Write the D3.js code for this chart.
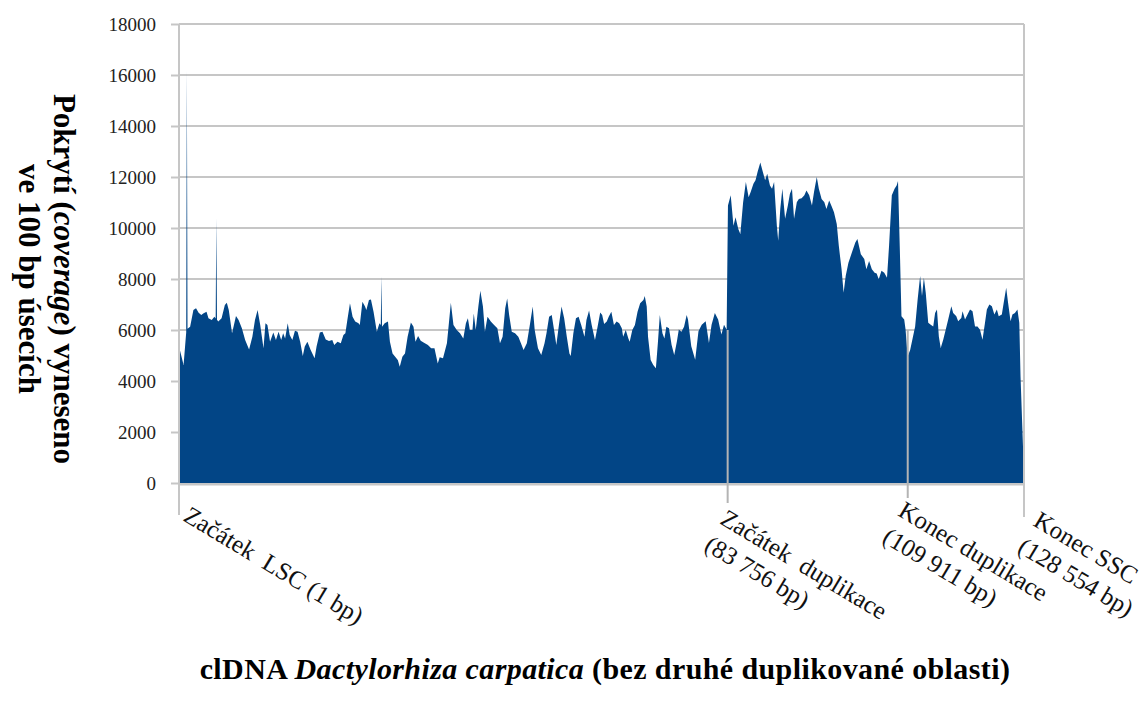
<!DOCTYPE html>
<html>
<head>
<meta charset="utf-8">
<script src="https://cdn.jsdelivr.net/npm/d3@7"></script>
<style>
  html, body { margin: 0; padding: 0; background: #fff; }
  svg { display: block; }
</style>
</head>
<body>
<svg id="chart" width="1146" height="702"></svg>
<script>
// Coverage of 100 bp windows along the chloroplast genome (bp position, reads)
const windowStart = [
  1, 700, 1100, 1200, 1300, 1700, 2200, 2600, 3000, 3400, 3700, 4200, 4500, 5000, 5400, 5600, 5700, 5800,
  6000, 6500, 7000, 7300, 7600, 8100, 8700, 9100, 9600, 10100, 10700, 11200, 11600, 12000, 12400, 12900,
  13200, 13500, 13900, 14400, 14800, 15200, 15600, 15900, 16200, 16600, 16900, 17300, 17700, 18100, 18500,
  18900, 19200, 19600, 20100, 20700, 21000, 21500, 21900, 22400, 22900, 23400, 23700, 24200, 24700, 25100,
  25400, 25700, 26100, 26500, 26900, 27400, 27600, 28000, 28400, 28600, 29000, 29300, 29700, 30200, 30600,
  30800, 30900, 31000, 31400, 31900, 32200, 32600, 33000, 33400, 33700, 34100, 34500, 34900, 35400, 35800,
  36100, 36500, 36900, 37400, 38000, 38500, 39000, 39500, 39800, 40300, 40900, 41200, 41500, 41900, 42400,
  42900, 43400, 43800, 44100, 44400, 44800, 45000, 45300, 45700, 46000, 46400, 46700, 47100, 47600, 48100,
  48600, 49000, 49400, 49800, 50100, 50400, 50800, 51300, 51800, 52200, 52600, 53100, 53600, 54000, 54300,
  54800, 55300, 55800, 56100, 56500, 56900, 57300, 57600, 58000, 58400, 58800, 59200, 59600, 59800, 60200,
  60600, 61000, 61400, 61900, 62200, 62600, 63000, 63500, 63900, 64300, 64600, 64900, 65300, 65600, 66000,
  66400, 66800, 67200, 67600, 67800, 68200, 68600, 68800, 69200, 69600, 70000, 70400, 70900, 71100, 71400,
  71600, 72000, 72400, 72800, 73100, 73400, 73800, 74100, 74400, 74800, 75200, 75600, 76000, 76300, 76700,
  77100, 77500, 77700, 78200, 78800, 79300, 79800, 80400, 80900, 81300, 81800, 82300, 82800, 83200, 83600,
  83800, 84200, 84600, 84900, 85300, 85600, 86000, 86400, 86800, 87100, 87500, 87800, 88100, 88500, 88800,
  89200, 89500, 89900, 90200, 90500, 90900, 91100, 91400, 91700, 92100, 92500, 92800, 93100, 93400, 93800,
  94100, 94500, 94900, 95200, 95600, 96000, 96300, 96700, 97000, 97400, 97800, 98100, 98500, 98900, 99200,
  99600, 99900, 100300, 100600, 100900, 101300, 101800, 102300, 102600, 103100, 103600, 103900, 104300,
  104700, 105100, 105400, 105700, 106100, 106500, 106900, 107200, 107600, 108000, 108300, 108500, 108800,
  109000, 109400, 109600, 109900, 110300, 110700, 111100, 111500, 111900, 112200, 112500, 112800, 113200,
  113600, 114000, 114300, 114600, 114900, 115200, 115600, 116000, 116400, 116900, 117200, 117700, 118000,
  118500, 118700, 119100, 119500, 119900, 120300, 120700, 121100, 121500, 121900, 122300, 122600, 123000,
  123400, 123800, 124200, 124500, 125000, 125300, 125700, 126000, 126400, 126700, 127100, 127500, 127800,
  128000, 128554
];
const coverage = [
  5350, 4630, 5900, 16200, 6050, 6130, 6780, 6850, 6680, 6590, 6650, 6720, 6460, 6390, 6520, 6450, 10380, 6400,
  6330, 6460, 6980, 7070, 6780, 5870, 6550, 6390, 6070, 5610, 5240, 5740, 6390, 6780, 6200, 5280,
  6260, 6200, 5540, 5900, 5610, 5930, 5610, 5870, 5670, 6260, 5800, 5610, 5970, 5930, 5540,
  4980, 5350, 5540, 5220, 4890, 5350, 5900, 5930, 5630, 5570, 5610, 5410, 5540, 5480, 5800,
  5870, 6390, 7050, 6520, 6330, 6260, 6200, 7110, 6920, 6780, 7180, 7200, 6720, 5930, 6260,
  6200, 8100, 6130, 6260, 6330, 5540, 5080, 4950, 4820, 4560, 4950, 5080, 5740, 6290, 6130,
  5540, 5760, 5580, 5500, 5410, 5280, 5280, 4690, 4930, 4890, 5480, 6260, 7070, 6200, 6000,
  5870, 5670, 6260, 6460, 6000, 6000, 6650, 6000, 6920, 7540, 6920, 5930, 6520, 6330, 6200,
  6070, 5480, 5740, 6850, 7240, 6590, 5930, 5870, 5740, 5480, 5220, 5480, 6260, 6920, 6000,
  5280, 5020, 5480, 5870, 6520, 6590, 5930, 5410, 6200, 6920, 6460, 5740, 5080, 4980, 5870,
  6460, 6520, 6200, 5740, 6390, 6760, 6200, 5610, 6130, 6690, 6590, 6240, 6330, 6520, 6720,
  6200, 6330, 6260, 6070, 5740, 6000, 5670, 5540, 6000, 6200, 6720, 7050, 7180, 7330, 6920,
  5740, 4820, 4630, 4500, 5480, 6590, 5870, 5670, 6130, 6070, 5410, 5020, 5540, 6020, 5930,
  6130, 6590, 6410, 5360, 4830, 5950, 6210, 6340, 5490, 6210, 6670, 6410, 5820, 6210, 6010,
  10880, 11280, 10090, 10420, 9960, 9760, 11000, 11800, 11210, 11410, 11740, 11870, 12200, 12570, 12260,
  11870, 12130, 11670, 11540, 11800, 10090, 9500, 10750, 11540, 10360, 10880, 11340, 11540, 10360, 11010,
  11140, 11170, 11280, 11470, 11280, 10880, 11410, 12000, 11540, 11140, 11010, 10750, 11080, 10820, 10620,
  10160, 9300, 8380, 7460, 8120, 8640, 9040, 9430, 9570, 8970, 8780, 8380, 8710,
  8380, 8250, 8220, 7990, 8320, 8250, 8050, 9300, 11280, 11540, 11670, 11840, 8780,
  6540, 6410, 6010, 4960, 5220, 5680, 6140, 7200, 8120, 7330, 8050, 7460, 6280,
  6210, 6140, 6670, 6800, 5750, 5290, 5620, 6010, 6410, 6930, 6670, 6540, 6340,
  6470, 6740, 6410, 6610, 6800, 6740, 6140, 6140, 6010, 5620, 6280, 6800, 7000,
  6930, 6610, 6800, 6540, 6610, 7070, 7660, 7070, 6340, 6610, 6670, 6800, 6280,
  4170, 300
];

// Region boundaries marked on the horizontal axis
const boundaryBp = [1, 83756, 109911, 128554];
const boundaryLabels = [
  ["Začátek\u00a0\u00a0LSC (1 bp)"],
  ["Začátek\u00a0\u00a0duplikace", "(83 756 bp)"],
  ["Konec duplikace", "(109 911 bp)"],
  ["Konec SSC", "(128 554 bp)"]
];
const yTicks = [0, 2000, 4000, 6000, 8000, 10000, 12000, 14000, 16000, 18000];

const data = windowStart.map((bp, i) => ({ bp, v: coverage[i] }));

// Layout
const svg = d3.select("#chart");
const margin = { left: 179, top: 24, right: 1146 - 1024, bottom: 702 - 483 };
const width = 1146 - margin.left - margin.right;
const height = 702 - margin.top - margin.bottom;
const gridColor = "#c6c6c6";
const areaColor = "#024586";
const serif = "'Liberation Serif', 'Times New Roman', serif";

// Piecewise scale: each genome region gets its own stretch of the axis
const regionFrac = [0, 0.6493, 0.8624, 1];
const x = d3.scaleLinear().domain(boundaryBp).range(regionFrac.map(f => f * width));
const y = d3.scaleLinear().domain([0, 18000]).range([height, 0]);

const g = svg.append("g").attr("transform", `translate(${margin.left},${margin.top})`);

// Horizontal gridlines
g.append("g")
  .selectAll("line")
  .data(yTicks)
  .join("line")
  .attr("x1", 0).attr("x2", width)
  .attr("y1", d => y(d)).attr("y2", d => y(d))
  .attr("stroke", gridColor).attr("stroke-width", 2);

// Y axis with outward ticks
const yAxis = g.append("g")
  .call(d3.axisLeft(y).tickValues(yTicks).tickSize(8).tickPadding(15).tickFormat(d3.format("d")));
yAxis.select(".domain").remove();
yAxis.selectAll(".tick line").attr("stroke", gridColor).attr("stroke-width", 2);
yAxis.selectAll(".tick text")
  .attr("font-family", serif)
  .attr("font-size", 19)
  .attr("fill", "#222");

// Coverage area
const area = d3.area()
  .x(d => x(d.bp))
  .y0(y(0))
  .y1(d => y(d.v))
  .curve(d3.curveLinear);

g.append("path")
  .datum(data)
  .attr("d", area)
  .attr("fill", areaColor);

// Left and right frame lines, bottom axis line
g.append("line")
  .attr("x1", 0).attr("x2", 0).attr("y1", 0).attr("y2", height + 32)
  .attr("stroke", gridColor).attr("stroke-width", 2);
g.append("line")
  .attr("x1", width).attr("x2", width).attr("y1", 0).attr("y2", height + 34)
  .attr("stroke", gridColor).attr("stroke-width", 2);
g.append("line")
  .attr("x1", 0).attr("x2", width).attr("y1", height + 1.5).attr("y2", height + 1.5)
  .attr("stroke", gridColor).attr("stroke-width", 2);

// Marker lines at the duplication boundaries
const tickDrop = [32, 20, 15, 34];
g.append("g")
  .selectAll("line")
  .data(boundaryBp.slice(1, 3))
  .join("line")
  .attr("x1", d => x(d)).attr("x2", d => x(d))
  .attr("y1", y(6000)).attr("y2", (d, i) => height + tickDrop[i + 1])
  .attr("stroke", "#b4b4b4").attr("stroke-width", 2);

// Rotated boundary labels
const labelShift = [[12, 22], [0, 25], [-2, 17], [17, 27]];
const labels = g.append("g")
  .attr("font-family", serif)
  .attr("font-size", 25)
  .attr("fill", "#111");
boundaryBp.forEach((bp, i) => {
  const t = labels.append("text")
    .attr("transform", `translate(${x(bp) + labelShift[i][0]},${height + labelShift[i][1]}) rotate(31)`);
  boundaryLabels[i].forEach((line, j) => {
    t.append("tspan")
      .attr("x", 0)
      .attr("y", 0)
      .attr("dy", (0.7 + j * 1.22) + "em")
      .text(line);
  });
});

// Axis titles
const yTitle = svg.append("text")
  .attr("transform", "translate(54,279) rotate(90)")
  .attr("font-family", serif)
  .attr("font-weight", "bold")
  .attr("font-size", 31)
  .attr("text-anchor", "middle")
  .attr("fill", "#000");
const l1 = yTitle.append("tspan").attr("x", 0).attr("y", 0);
l1.append("tspan").text("Pokrytí (");
l1.append("tspan").attr("font-style", "italic").text("coverage");
l1.append("tspan").text(") vyneseno");
yTitle.append("tspan").attr("x", 0).attr("y", 35).text("ve 100 bp úsecích");

const title = svg.append("text")
  .attr("x", 605).attr("y", 679)
  .attr("font-family", serif)
  .attr("font-weight", "bold")
  .attr("font-size", 30)
  .attr("letter-spacing", 0.4)
  .attr("text-anchor", "middle")
  .attr("fill", "#000");
title.append("tspan").text("clDNA ");
title.append("tspan").attr("font-style", "italic").text("Dactylorhiza carpatica");
title.append("tspan").text(" (bez druhé duplikované oblasti)");
</script>
</body>
</html>
